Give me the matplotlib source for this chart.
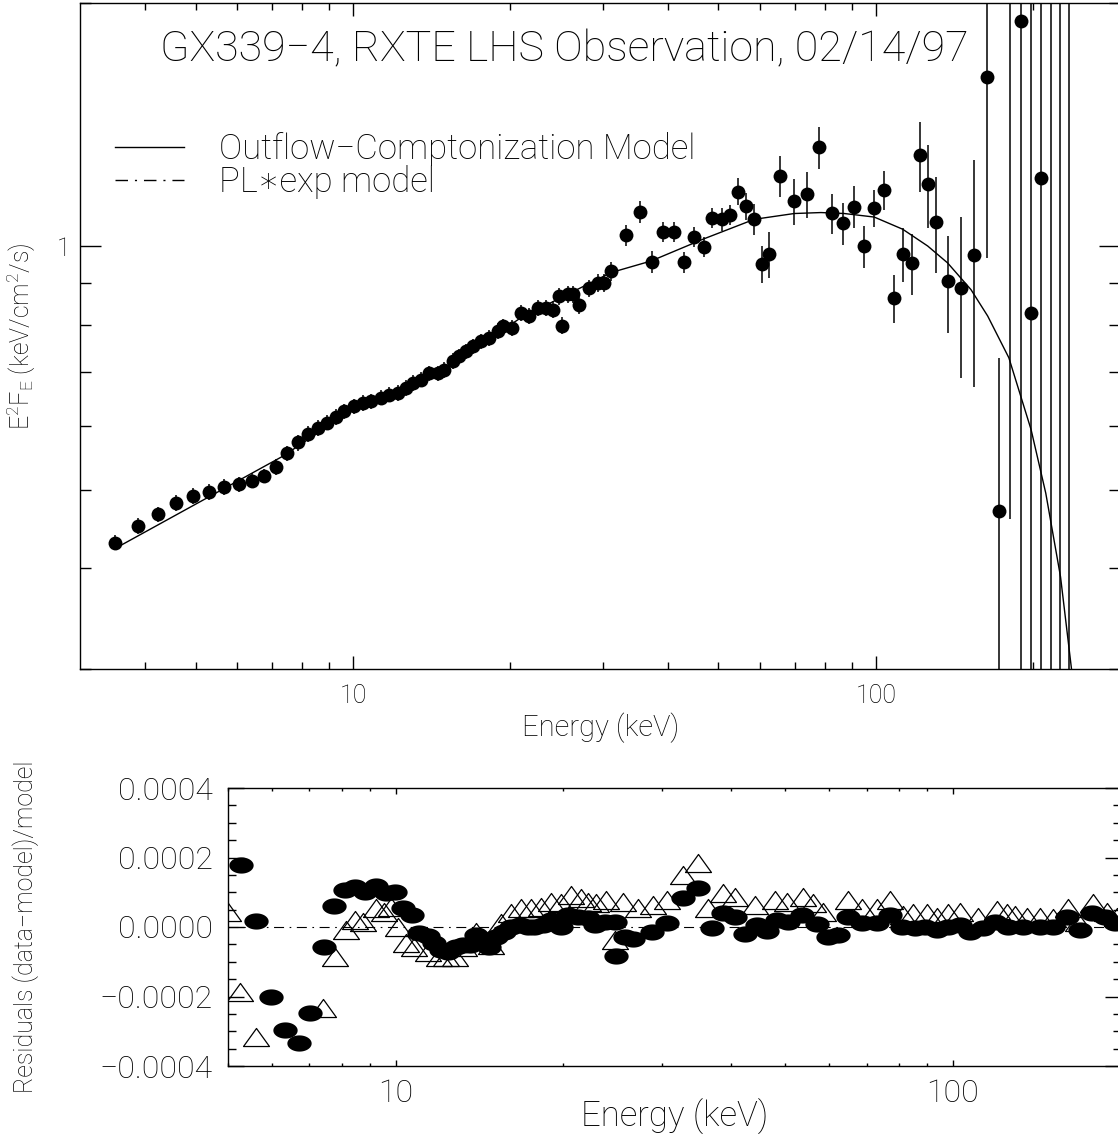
import numpy as np
import matplotlib
matplotlib.use('Agg')
import matplotlib.pyplot as plt
from matplotlib.path import Path
from matplotlib.lines import Line2D
from matplotlib.ticker import (FixedLocator, LogLocator, NullFormatter,
                               MultipleLocator, FuncFormatter)

plt.rcParams['font.family'] = ['Roboto', 'DejaVu Sans']
plt.rcParams['font.weight'] = 'light'
plt.rcParams['axes.labelweight'] = 'light'
plt.rcParams['mathtext.default'] = 'regular'

# ---- top panel: E^2 F_E spectrum (keV, keV/cm^2/s) ----
energy = [3.51, 3.88, 4.23, 4.59, 4.95, 5.31, 5.67, 6.04, 6.40, 6.75,
          7.12, 7.47, 7.84, 8.21, 8.56, 8.92, 9.28, 9.62, 10.03, 10.43,
          10.82, 11.31, 11.73, 12.18, 12.63, 13.00, 13.49, 13.99, 14.52, 14.95,
          15.51, 15.97, 16.45, 16.94, 17.57, 18.22, 18.91, 19.33, 20.11, 20.95,
          21.74, 22.56, 23.39, 24.09, 24.80, 25.06, 25.73, 26.31, 27.08, 28.31,
          29.38, 30.24, 31.15, 33.27, 35.39, 37.25, 39.21, 41.15, 43.01, 44.82,
          46.84, 48.58, 50.70, 52.58, 54.40, 56.42, 58.53, 60.47, 62.52, 65.53,
          69.60, 73.80, 77.93, 82.29, 86.49, 90.66, 94.96, 99.26, 103.7, 108.1,
          112.6, 117.0, 121.5, 125.9, 130.4, 137.1, 145.4, 154.2, 162.8, 171.7,
          180.6, 189.4, 198.1, 207.1, 215.9, 224.8, 233.9]
flux = [0.430, 0.451, 0.466, 0.481, 0.491, 0.497, 0.504, 0.508, 0.513, 0.520,
        0.533, 0.555, 0.572, 0.586, 0.596, 0.605, 0.615, 0.625, 0.634, 0.640,
        0.643, 0.650, 0.655, 0.659, 0.668, 0.678, 0.684, 0.697, 0.697, 0.704,
        0.721, 0.731, 0.742, 0.752, 0.763, 0.770, 0.785, 0.796, 0.793, 0.827,
        0.821, 0.839, 0.839, 0.835, 0.868, 0.798, 0.872, 0.872, 0.845, 0.887,
        0.902, 0.900, 0.931, 1.032, 1.103, 0.957, 1.042, 1.042, 0.956, 1.027,
        0.998, 1.084, 1.080, 1.094, 1.169, 1.122, 1.080, 0.950, 0.979, 1.222,
        1.137, 1.161, 1.326, 1.099, 1.068, 1.120, 1.000, 1.115, 1.175, 0.862,
        0.979, 0.953, 1.297, 1.194, 1.073, 0.906, 0.887, 0.975, 1.619, 0.471,
        2.35, 1.898, 0.826, 1.214, -0.5, -0.5, -0.5]
flux_err = [0.009, 0.010, 0.010, 0.011, 0.011, 0.011, 0.011, 0.011, 0.011, 0.011,
            0.012, 0.012, 0.013, 0.013, 0.013, 0.013, 0.014, 0.014, 0.014, 0.014,
            0.014, 0.014, 0.014, 0.015, 0.015, 0.015, 0.015, 0.015, 0.015, 0.016,
            0.016, 0.016, 0.016, 0.017, 0.017, 0.017, 0.018, 0.018, 0.018, 0.019,
            0.019, 0.019, 0.020, 0.020, 0.021, 0.019, 0.021, 0.022, 0.021, 0.022,
            0.023, 0.023, 0.025, 0.030, 0.035, 0.030, 0.030, 0.030, 0.028, 0.029,
            0.029, 0.031, 0.034, 0.031, 0.045, 0.043, 0.047, 0.050, 0.064, 0.072,
            0.074, 0.076, 0.078, 0.062, 0.063, 0.066, 0.059, 0.059, 0.066, 0.059,
            0.075, 0.082, 0.128, 0.141, 0.147, 0.124, 0.199, 0.305, 0.653, 0.257,
            1.89, 1.90, 1.50, 1.40, 3.0, 3.0, 3.0]

model_e = [3.51, 7.34, 10.0, 15.39, 20.95, 31.15, 37.14, 46.96, 58.53, 69.80,
           78.5, 86.98, 99.26, 112.5, 125.6, 137.1, 152.0, 163.6, 179.6, 198.1,
           211.3, 225.5, 236.8, 241.2]
model_f = [0.423, 0.550, 0.628, 0.714, 0.816, 0.928, 0.959, 1.022, 1.080, 1.098,
           1.101, 1.098, 1.087, 1.050, 1.001, 0.954, 0.884, 0.820, 0.728, 0.593,
           0.495, 0.390, 0.299, 0.259]

# ---- bottom panel: residuals (units of 1e-4) ----
oc_e = [5.28, 5.61, 5.97, 6.34, 6.71, 7.03, 7.43, 7.76, 8.11, 8.46,
        8.81, 9.22, 9.61, 9.99, 10.29, 10.70, 11.03, 11.41, 11.73, 12.06,
        12.40, 12.83, 13.19, 13.61, 13.94, 14.33, 14.73, 15.14, 15.67, 16.11,
        16.68, 17.26, 17.74, 18.36, 19.00, 19.81, 20.36, 21.22, 22.12, 22.74,
        23.71, 24.70, 24.83, 25.74, 26.67, 28.78, 30.62, 32.81, 34.89, 36.88,
        38.69, 40.61, 42.33, 44.42, 46.29, 48.25, 50.62, 53.51, 56.93, 59.71,
        62.24, 64.86, 68.57, 72.95, 77.06, 80.88, 85.48, 89.09, 93.48, 98.08,
        102.9, 107.3, 113.3, 119.0, 125.7, 133.7, 143.3, 151.4, 160.0, 169.0,
        177.5, 187.5, 195.4]
oc_resid = [1.78, 0.18, -2.01, -2.96, -3.35, -2.48, -0.58, 0.60, 1.06, 1.14,
            1.02, 1.18, 0.97, 1.00, 0.54, 0.35, -0.18, -0.26, -0.47, -0.66,
            -0.71, -0.57, -0.52, -0.52, -0.23, -0.47, -0.57, -0.28, -0.14, 0.01,
            0.06, 0.01, 0.01, 0.06, 0.20, 0.01, 0.35, 0.30, 0.25, 0.06,
            0.15, 0.15, -0.83, -0.28, -0.35, -0.14, 0.12, 0.83, 1.11, -0.04,
            0.41, 0.30, -0.20, 0.06, -0.11, 0.20, 0.15, 0.35, 0.09, -0.28,
            -0.23, 0.30, 0.11, 0.11, 0.35, 0.01, -0.04, 0.01, -0.09, 0.01,
            0.06, -0.14, -0.04, 0.15, 0.01, 0.01, 0.01, 0.01, 0.28, -0.09,
            0.41, 0.30, 0.11]

pl_e = [5.00, 5.25, 5.62, 5.97, 6.34, 6.71, 7.03, 7.40, 7.77, 8.14,
        8.45, 8.72, 9.22, 9.54, 9.81, 10.08, 10.43, 10.80, 11.41, 11.98,
        12.31, 12.75, 13.28, 13.94, 14.83, 15.45, 16.11, 16.79, 17.50, 18.24,
        19.00, 19.81, 20.64, 21.51, 22.12, 22.89, 23.86, 24.73, 25.56, 27.23,
        28.97, 30.62, 32.81, 34.89, 36.37, 38.69, 40.61, 44.11, 47.90, 50.28,
        53.87, 56.15, 58.51, 64.86, 68.57, 72.95, 77.06, 81.44, 84.86, 89.69,
        93.48, 98.08, 102.9, 111.0, 119.8, 124.9, 129.3, 135.6, 143.3, 151.4,
        161.1, 167.9, 178.6, 188.8, 196.8]
pl_resid = [0.43, -1.86, -3.16, -5.0, -5.5, -5.6, -4.9, -2.34, -0.85, -0.09,
            0.20, 0.15, 0.54, 0.44, 0.58, 0.01, -0.47, -0.57, -0.71, -0.85,
            -0.85, -0.85, -0.57, -0.14, -0.52, 0.11, 0.39, 0.54, 0.54, 0.58,
            0.73, 0.68, 0.92, 0.83, 0.73, 0.68, 0.78, -0.37, 0.73, 0.54,
            0.63, 0.78, 1.50, 1.83, 0.54, 0.97, 0.87, 0.63, 0.78, 0.73,
            0.87, 0.68, 0.44, 0.78, 0.54, 0.54, 0.78, 0.35, 0.39, 0.39,
            0.30, 0.39, 0.44, 0.30, 0.49, 0.39, 0.35, 0.30, 0.30, 0.25,
            0.54, 0.15, 0.68, 0.44, 0.30]

W, H = 1118, 1136
fig = plt.figure(figsize=(W / 100, H / 100), dpi=100)
ax1 = fig.add_axes([80.4 / W, 1 - 669 / H, (1120 - 80.4) / W, 666 / H])
ax2 = fig.add_axes([228 / W, 1 - 1066 / H, (1120.7 - 228) / W, 278 / H])

# marker shapes
t = np.linspace(0, 2 * np.pi, 64)
ellipse = Path(np.column_stack([1.5 * np.cos(t), np.sin(t)]), closed=True)
flat_tri = Path([(0, 1), (-1.44, -1), (1.44, -1), (0, 1)], closed=True)

dashdot = (9, 5, 1.5, 5)

# ---------- top panel ----------
ax1.set_xscale('log')
ax1.set_yscale('log')
ax1.plot(model_e, model_f, color='black', lw=1.0, zorder=2)
ax1.errorbar(energy, flux, yerr=flux_err, fmt='o', color='black', ms=10,
             mew=0, elinewidth=1.1, capsize=0, zorder=3)
ax1.set_xlim(3.01, 293)
ax1.set_ylim(0.3, 2.0)

ax1.xaxis.set_major_locator(FixedLocator([10, 100]))
ax1.xaxis.set_minor_locator(LogLocator(base=10, subs=np.arange(2, 10), numticks=20))
ax1.xaxis.set_major_formatter(FuncFormatter(lambda v, p: f'{v:g}'))
ax1.xaxis.set_minor_formatter(NullFormatter())
ax1.yaxis.set_major_locator(FixedLocator([1]))
ax1.yaxis.set_minor_locator(FixedLocator([0.3, 0.4, 0.5, 0.6, 0.7, 0.8, 0.9, 2.0]))
ax1.yaxis.set_major_formatter(FuncFormatter(lambda v, p: f'{v:g}'))
ax1.yaxis.set_minor_formatter(NullFormatter())
ax1.tick_params(which='both', direction='in', top=True, right=True, width=1,
                labelsize=18, colors='black')
ax1.tick_params(axis='x', which='major', length=9.4, pad=11)
ax1.tick_params(axis='x', which='minor', length=5)
ax1.tick_params(axis='y', which='major', length=15, pad=7)
ax1.tick_params(axis='y', which='minor', length=8)

ax1.set_xlabel('Energy (keV)', fontsize=21)
ax1.xaxis.set_label_coords(0.5, -0.066)
ax1.set_ylabel(r'$E^2F_E$ (keV/cm$^2$/s)', fontsize=18)
ax1.yaxis.set_label_coords(-0.041, 0.5)

ax1.text(0.465, 0.929, 'GX339\u22124, RXTE LHS Observation, 02/14/97',
         transform=ax1.transAxes, ha='center', va='center', fontsize=31)

handles = [Line2D([], [], color='black', lw=1.0),
           Line2D([], [], color='black', lw=1.0, dashes=dashdot)]
ax1.legend(handles, ['Outflow\u2212Comptonization Model', 'PL\u2217exp model'],
           loc='upper left', bbox_to_anchor=(0.0333, 0.806), frameon=False,
           fontsize=25, handlelength=2.0, handletextpad=1.0,
           labelspacing=-0.04, borderpad=0, borderaxespad=0)

# ---------- bottom panel ----------
ax2.set_xscale('log')
ax2.axhline(0, color='black', lw=0.8, dashes=dashdot, zorder=1)
ax2.plot(pl_e, np.array(pl_resid) * 1e-4, ls='none', marker=flat_tri, ms=18.7,
         mfc='none', mec='black', mew=0.9, zorder=2)
ax2.plot(oc_e, np.array(oc_resid) * 1e-4, ls='none', marker=ellipse, ms=17.5,
         mfc='black', mec='black', mew=0, zorder=3)
ax2.set_xlim(5, 200)
ax2.set_ylim(-0.0004, 0.0004)

ax2.xaxis.set_major_locator(FixedLocator([10, 100]))
ax2.xaxis.set_minor_locator(LogLocator(base=10, subs=np.arange(2, 10), numticks=20))
ax2.xaxis.set_major_formatter(FuncFormatter(lambda v, p: f'{v:g}'))
ax2.xaxis.set_minor_formatter(NullFormatter())
ax2.yaxis.set_major_locator(MultipleLocator(0.0002))
ax2.yaxis.set_minor_locator(MultipleLocator(0.00005))


def resid_fmt(v, p):
    if abs(v) < 1e-12:
        v = 0.0
    return f'{v:.4f}'.replace('-', '\u2212')


ax2.yaxis.set_major_formatter(FuncFormatter(resid_fmt))
ax2.tick_params(which='both', direction='in', top=True, right=True, width=1,
                labelsize=23, colors='black')
ax2.tick_params(axis='x', which='major', length=4.3, pad=9)
ax2.tick_params(axis='x', which='minor', length=2.3)
ax2.tick_params(axis='y', which='major', length=11.5, pad=11)
ax2.tick_params(axis='y', which='minor', length=5.8)

ax2.set_xlabel('Energy (keV)', fontsize=25)
ax2.xaxis.set_label_coords(0.5, -0.12)
ax2.set_ylabel('Residuals (data\u2212model)/model', fontsize=18)
ax2.yaxis.set_label_coords(-0.212, 0.5)

for ax in (ax1, ax2):
    for s in ax.spines.values():
        s.set_linewidth(1.0)

fig.savefig('out.png', dpi=100)
